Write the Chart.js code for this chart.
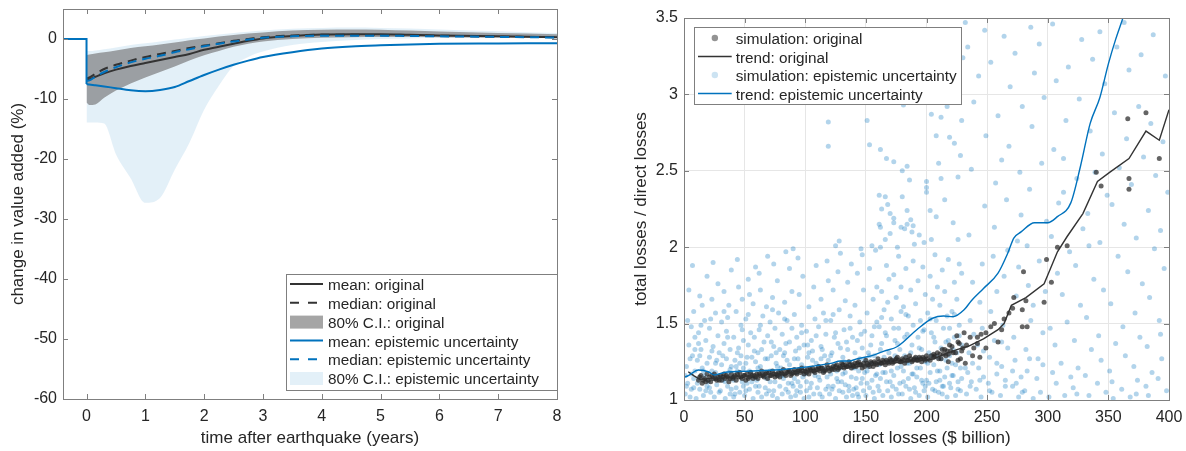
<!DOCTYPE html>
<html>
<head>
<meta charset="utf-8">
<script src="https://cdn.jsdelivr.net/npm/chart.js@4.4.1/dist/chart.umd.min.js"></script>
<style>
  body { margin: 0; background: #fff; }
  canvas { position: absolute; top: 0; }
</style>
</head>
<body>
<canvas id="impactChart" width="590" height="451" style="left:0"></canvas>
<canvas id="lossChart" width="596" height="451" style="left:590px"></canvas>
<script>
// --- left panel: change in value added after the quake ---
const preEventTime = [-0.4, 0];
const preEventChange = [0, 0];
const tPost = [0, 0.05, 0.15, 0.3, 0.5, 0.75, 1, 1.25, 1.5, 1.75, 2, 2.25, 2.5, 2.75, 3, 3.5, 4, 4.5, 5, 5.5, 6, 7, 8];
const meanOriginal = [-6.8, -6.7, -6.3, -5.7, -5.1, -4.5, -4.0, -3.5, -3.0, -2.5, -1.8, -1.3, -0.8, -0.3, 0.1, 0.5, 0.75, 0.8, 0.8, 0.7, 0.6, 0.45, 0.3];
const medianOriginal = [-6.6, -6.4, -5.8, -5.0, -4.3, -3.6, -3.0, -2.5, -2.0, -1.5, -1.1, -0.7, -0.3, 0.0, 0.3, 0.6, 0.7, 0.7, 0.65, 0.6, 0.55, 0.4, 0.3];
const meanEpistemic = [-7.5, -7.6, -7.7, -7.9, -8.2, -8.55, -8.7, -8.5, -8.0, -7.0, -6.0, -5.1, -4.3, -3.6, -3.0, -2.2, -1.6, -1.25, -1.05, -0.9, -0.8, -0.75, -0.7];
const medianEpistemic = [-7.0, -6.9, -6.3, -5.5, -4.7, -3.9, -3.3, -2.8, -2.2, -1.7, -1.2, -0.8, -0.4, -0.1, 0.2, 0.45, 0.55, 0.55, 0.55, 0.5, 0.45, 0.35, 0.25];
const ciOriginalUpper = [-2.7, -2.6, -2.4, -2.2, -1.9, -1.5, -1.2, -0.9, -0.6, -0.2, 0.1, 0.4, 0.65, 0.9, 1.1, 1.4, 1.55, 1.6, 1.55, 1.4, 1.25, 1.0, 0.8];
const ciOriginalLower = [-10.6, -11.0, -10.9, -9.8, -8.6, -7.4, -6.4, -5.5, -4.6, -3.6, -2.7, -2.0, -1.3, -0.8, -0.4, 0.0, 0.2, 0.3, 0.35, 0.35, 0.3, 0.25, 0.15];
const ciEpistemicUpper = [-2.0, -2.0, -1.9, -1.7, -1.4, -1.0, -0.7, -0.4, -0.1, 0.2, 0.5, 0.75, 1.0, 1.2, 1.4, 1.7, 1.85, 1.9, 1.85, 1.75, 1.6, 1.3, 1.0];
const ciEpistemicLower = [-13.9, -13.9, -13.9, -14.1, -19.2, -23.2, -27.3, -26.5, -21.8, -17.3, -11.8, -7.8, -4.5, -3.0, -2.1, -1.0, -0.5, -0.2, 0.0, 0.1, 0.15, 0.15, 0.1];
const timeTicks = [0, 1, 2, 3, 4, 5, 6, 7, 8];
const changeTicks = [-60, -50, -40, -30, -20, -10, 0];
const impactLegend = ['mean: original', 'median: original', '80% C.I.: original',
  'mean: epistemic uncertainty', 'median: epistemic uncertainty', '80% C.I.: epistemic uncertainty'];

// --- right panel: total / direct losses ---
const lossTicks = [0, 50, 100, 150, 200, 250, 300, 350, 400];
const ratioTicks = [1, 1.5, 2, 2.5, 3, 3.5];
const lossLegend = ['simulation: original', 'trend: original', 'simulation: epistemic uncertainty', 'trend: epistemic uncertainty'];

const trendOrigX = [3.5, 8, 13, 20, 30, 45, 60, 80, 100, 120, 140, 160, 180, 200, 206, 215, 225, 234, 247, 259, 264, 270, 282, 297, 308, 316, 329, 341, 351, 367, 381, 392, 400];
const trendOrigY = [1.185, 1.16, 1.135, 1.14, 1.145, 1.153, 1.16, 1.172, 1.185, 1.2, 1.215, 1.232, 1.248, 1.262, 1.27, 1.3, 1.33, 1.35, 1.4, 1.46, 1.5, 1.62, 1.67, 1.76, 1.97, 2.07, 2.22, 2.43, 2.49, 2.58, 2.76, 2.70, 2.90];
const trendEpiX = [0, 3, 12, 20, 25, 33, 55, 82, 100, 121, 129, 136, 143, 155, 165, 176, 192, 205, 214, 222, 231, 237, 247, 259, 267, 272, 278, 289, 300, 308, 319, 327, 335, 343, 350, 356, 362, 366];
const trendEpiY = [1.15, 1.157, 1.196, 1.185, 1.164, 1.18, 1.19, 1.2, 1.215, 1.24, 1.255, 1.255, 1.27, 1.29, 1.32, 1.35, 1.46, 1.535, 1.55, 1.545, 1.59, 1.65, 1.73, 1.83, 1.96, 2.06, 2.1, 2.16, 2.16, 2.2, 2.29, 2.53, 2.81, 2.98, 3.2, 3.36, 3.5, 3.6];

// simulated runs (direct losses, ratio)
const simOriginal = [
  [12,1.13],[14,1.16],[15,1.11],[17,1.14],[18,1.12],[19,1.17],[21,1.15],[22,1.12],[24,1.14],[25,1.17],[27,1.13],[28,1.15],
  [30,1.16],[31,1.13],[33,1.17],[34,1.14],[36,1.15],[37,1.12],[39,1.17],[40,1.14],[42,1.16],[43,1.13],[45,1.15],[46,1.18],
  [48,1.14],[49,1.16],[51,1.13],[52,1.17],[54,1.15],[55,1.18],[57,1.14],[58,1.16],[60,1.17],[61,1.14],[63,1.16],[64,1.19],
  [66,1.15],[67,1.17],[69,1.14],[70,1.18],[72,1.16],[73,1.19],[75,1.15],[76,1.17],[78,1.18],[79,1.15],[81,1.17],[82,1.2],
  [84,1.16],[85,1.18],[87,1.19],[88,1.16],[90,1.18],[91,1.2],[93,1.17],[94,1.19],[96,1.18],[97,1.21],[99,1.17],[100,1.19],
  [102,1.2],[103,1.17],[105,1.19],[106,1.21],[108,1.18],[109,1.2],[111,1.22],[112,1.19],[114,1.21],[115,1.18],[117,1.2],
  [118,1.23],[120,1.19],[121,1.21],[123,1.22],[124,1.2],[126,1.23],[127,1.2],[129,1.22],[130,1.24],[132,1.21],[133,1.23],
  [135,1.22],[136,1.25],[138,1.21],[139,1.23],[141,1.24],[142,1.22],[144,1.25],[145,1.23],[147,1.21],[148,1.24],[150,1.26],
  [152,1.23],[154,1.25],[156,1.22],[158,1.24],[160,1.27],[162,1.24],[164,1.26],[166,1.23],[168,1.25],[170,1.27],[172,1.24],
  [174,1.26],[176,1.28],[178,1.25],[180,1.27],[182,1.24],[184,1.26],[186,1.29],[188,1.25],[190,1.27],[192,1.26],[194,1.28],
  [196,1.25],[198,1.27],[200,1.29],[203,1.26],[206,1.28],[209,1.31],[212,1.27],[215,1.33],[218,1.3],[221,1.35],[224,1.31],
  [227,1.37],[230,1.34],[206,1.3],[210,1.27],[213,1.33],[216,1.29],[219,1.36],[222,1.31],[226,1.38],[229,1.32],[233,1.36],
  [236,1.41],[239,1.34],[242,1.37],[245,1.43],[238,1.29],[232,1.24],[228,1.27],[225,1.42],
  [218,1.25],[226,1.26],[231,1.44],[242,1.41],[244,1.28],[249,1.34],[249,1.44],[253,1.48],[256,1.5],[259,1.38],[262,1.46],
  [264,1.53],[268,1.57],[272,1.67],[271,1.6],[279,1.59],[279,1.48],[280,1.84],[282,1.65],[283,1.48],[297,1.64],[299,1.92],
  [303,1.77],[308,2.0],[316,2.01],[340,2.49],[344,2.4],[366,2.84],[367,2.45],[367,2.38],[381,2.88],[392,2.58],
  [13,1.15],[16,1.13],[20,1.13],[23,1.16],[26,1.14],[29,1.13],[32,1.15],[35,1.16],[38,1.14],[41,1.15],[44,1.17],[47,1.15],
  [50,1.16],[53,1.14],[56,1.16],[59,1.15],[62,1.17],[65,1.16],[68,1.18],[71,1.16],[74,1.17],[77,1.16],[80,1.18],[83,1.17],
  [86,1.19],[89,1.17],[92,1.18],[95,1.2],[98,1.19],[101,1.18],[104,1.2],[107,1.19],[110,1.2],[113,1.21],[116,1.19],[119,1.21],
  [122,1.2],[125,1.22],[128,1.21],[131,1.23],[134,1.22],[137,1.23],[140,1.22],[143,1.24],[146,1.23],[149,1.22],[151,1.24],
  [153,1.22],[155,1.24],[157,1.25],[159,1.23],[161,1.25],[163,1.24],[165,1.25],[167,1.26],[169,1.24],[171,1.26],[173,1.25],
  [175,1.27],[177,1.26],[179,1.25],[181,1.26],[183,1.28],[185,1.26],[187,1.27],[189,1.26],[191,1.28],[193,1.26],[195,1.27],
  [197,1.28],[199,1.26],[201,1.27],[204,1.29],[207,1.29],[211,1.3],[214,1.3],[217,1.32],[220,1.32]
];
const simEpistemic = [
  [1,1.04],[2,1.22],[3,1.11],[4,1.36],[5,1.02],[6,1.48],[6,1.17],[7,1.29],[8,1.08],[8,1.58],[9,1.41],[9,1.19],[4,1.72],[7,1.88],
  [10,1.01],[11,1.26],[12,1.14],[12,1.44],[13,1.07],[14,1.33],[15,1.21],[15,1.62],[16,1.03],[17,1.52],[17,1.16],[18,1.39],[19,1.09],[19,1.81],[13,1.68],
  [20,1.12],[21,1.28],[21,1.47],[22,1.05],[23,1.19],[23,1.66],[24,1.35],[25,1.02],[26,1.24],[26,1.57],[27,1.1],[28,1.42],[28,1.76],[29,1.15],[29,1.31],[24,1.9],
  [30,1.06],[31,1.23],[31,1.51],[32,1.13],[33,1.37],[33,1.71],[34,1.01],[35,1.27],[35,1.45],[36,1.09],[37,1.18],[37,1.62],[38,1.33],[38,1.04],[39,1.22],[39,1.85],[36,1.54],
  [40,1.15],[41,1.02],[41,1.41],[42,1.26],[43,1.08],[43,1.58],[44,1.19],[45,1.34],[45,1.74],[46,1.05],[47,1.29],[47,1.49],[48,1.12],[48,1.66],[49,1.21],[49,1.39],[44,1.92],
  [50,1.03],[51,1.24],[51,1.53],[52,1.11],[53,1.36],[53,1.79],[54,1.07],[55,1.18],[55,1.44],[56,1.28],[57,1.01],[57,1.63],[58,1.15],[58,1.32],[59,1.09],[59,1.87],[54,1.69],
  [60,1.13],[61,1.31],[61,1.05],[62,1.46],[63,1.22],[63,1.72],[64,1.02],[65,1.17],[65,1.55],[66,1.38],[67,1.08],[67,1.27],[68,1.61],[68,1.14],[69,1.42],[69,1.94],[62,1.83],
  [70,1.06],[71,1.19],[71,1.51],[72,1.29],[73,1.03],[73,1.67],[74,1.35],[75,1.12],[75,1.47],[76,1.24],[77,1.01],[77,1.78],[78,1.16],[78,1.57],[79,1.09],[79,1.33],[74,1.89],
  [80,1.21],[81,1.04],[81,1.43],[82,1.14],[83,1.31],[83,1.64],[84,1.07],[85,1.26],[85,1.52],[86,1.11],[87,1.38],[87,1.86],[88,1.02],[88,1.19],[89,1.47],[89,1.71],[84,1.97],
  [90,1.09],[91,1.27],[91,1.56],[92,1.03],[93,1.18],[93,1.41],[94,1.12],[95,1.34],[95,1.69],[96,1.05],[97,1.23],[97,1.49],[98,1.15],[98,1.81],[99,1.01],[99,1.36],[94,1.93],
  [100,1.17],[101,1.06],[101,1.45],[102,1.28],[103,1.02],[103,1.61],[104,1.21],[105,1.11],[105,1.39],[106,1.32],[107,1.04],[107,1.74],[108,1.16],[108,1.53],[109,1.24],[109,1.88],
  [110,1.08],[111,1.22],[111,1.48],[112,1.13],[113,1.35],[113,1.66],[114,1.02],[115,1.19],[115,1.57],[116,1.29],[117,1.07],[117,1.43],[118,1.15],[118,1.91],[119,1.26],[119,1.78],
  [120,1.04],[121,1.17],[121,1.52],[122,1.31],[123,1.09],[123,1.72],[124,1.23],[125,1.01],[125,1.44],[126,1.14],[127,1.37],[127,1.84],[128,1.06],[128,1.59],[129,1.21],[129,1.96],
  [130,1.12],[131,1.28],[131,1.05],[132,1.46],[133,1.18],[133,1.65],[134,1.02],[135,1.33],[135,1.77],[136,1.09],[137,1.24],[137,1.55],[138,1.15],[138,1.89],[139,1.41],[139,1.03],
  [140,1.07],[141,1.21],[141,1.62],[142,1.14],[143,1.39],[143,1.83],[144,1.02],[145,1.27],[145,1.51],[146,1.11],[147,1.34],[147,1.95],[148,1.06],[148,1.72],[149,1.18],[149,1.45],[146,1.99],
  [150,1.03],[151,1.19],[151,1.57],[152,1.31],[153,1.08],[153,1.86],[154,1.24],[155,1.13],[155,1.42],[156,1.66],[157,1.01],[157,1.29],[158,1.16],[158,1.98],[159,1.51],[159,1.74],
  [160,1.09],[161,1.23],[161,1.48],[162,1.14],[163,1.37],[163,1.71],[164,1.03],[165,1.28],[165,1.59],[166,1.18],[167,1.42],[167,1.88],[168,1.06],[168,1.64],[169,1.31],[169,1.79],
  [170,1.12],[171,1.02],[171,1.53],[172,1.26],[173,1.16],[173,1.82],[174,1.39],[175,1.07],[175,1.67],[176,1.21],[177,1.47],[177,1.94],[178,1.11],[178,1.33],[179,1.58],[179,1.74],
  [180,1.04],[181,1.19],[181,1.61],[182,1.29],[183,1.09],[183,1.86],[184,1.43],[185,1.14],[185,1.55],[186,1.24],[187,1.01],[187,1.72],[188,1.36],[188,1.17],[189,1.49],[189,1.91],
  [190,1.08],[191,1.27],[191,1.63],[192,1.15],[193,1.41],[193,1.78],[194,1.03],[195,1.21],[195,1.52],[196,1.33],[197,1.11],[197,1.87],[198,1.46],[198,1.06],[199,1.69],[199,1.25],
  [200,1.13],[201,1.02],[201,1.57],[202,1.31],[203,1.18],[203,1.81],[204,1.44],[205,1.07],[205,1.66],[206,1.23],[207,1.38],[207,1.95],[208,1.12],[208,1.52],[209,1.28],[209,1.74],
  [210,1.05],[211,1.19],[211,1.62],[212,1.34],[213,1.09],[213,1.85],[214,1.47],[215,1.15],[215,1.71],[216,1.26],[217,1.02],[217,1.55],[218,1.39],[218,1.92],[219,1.11],[219,1.29],
  [220,1.08],[221,1.24],[221,1.58],[222,1.16],[223,1.41],[223,1.77],[224,1.03],[225,1.31],[225,1.66],[226,1.12],[227,1.49],[227,1.89],[228,1.21],[228,1.06],[229,1.36],[229,1.83],
  [2,1.09],[5,1.27],[8,1.14],[3,1.52],[9,1.33],[6,1.07],[1,1.16],[11,1.11],[13,1.29],[16,1.19],[18,1.06],[14,1.49],[19,1.24],[12,1.37],
  [21,1.08],[23,1.32],[25,1.14],[27,1.26],[29,1.05],[22,1.53],[26,1.18],[31,1.15],[32,1.29],[34,1.12],[36,1.41],[38,1.2],[39,1.07],[33,1.58],
  [41,1.13],[42,1.04],[44,1.31],[46,1.24],[48,1.46],[49,1.09],[43,1.22],[51,1.06],[52,1.28],[54,1.19],[56,1.12],[58,1.41],[59,1.25],[53,1.56],
  [61,1.21],[62,1.09],[64,1.33],[66,1.16],[68,1.04],[69,1.27],[63,1.49],[71,1.12],[72,1.38],[74,1.06],[76,1.31],[77,1.22],[79,1.18],[73,1.59],
  [81,1.16],[82,1.29],[84,1.37],[86,1.05],[87,1.23],[89,1.11],[83,1.53],[91,1.14],[92,1.32],[94,1.27],[96,1.09],[97,1.44],[99,1.21],[93,1.06],
  [101,1.12],[102,1.36],[104,1.08],[106,1.26],[107,1.19],[109,1.42],[103,1.31],[111,1.15],[112,1.04],[114,1.33],[116,1.21],[117,1.52],[119,1.09],[113,1.27],
  [121,1.29],[122,1.07],[124,1.41],[126,1.19],[127,1.12],[129,1.34],[123,1.56],[131,1.17],[132,1.25],[134,1.38],[136,1.06],[137,1.47],[139,1.21],[133,1.1],
  [141,1.31],[142,1.08],[144,1.19],[146,1.43],[147,1.14],[149,1.26],[143,1.04],[151,1.11],[152,1.22],[154,1.36],[156,1.05],[157,1.48],[159,1.17],[153,1.29],
  [161,1.06],[162,1.33],[164,1.18],[166,1.44],[167,1.12],[169,1.25],[163,1.54],[171,1.19],[172,1.09],[174,1.29],[176,1.37],[177,1.04],[179,1.22],[173,1.47],
  [181,1.12],[182,1.41],[184,1.24],[186,1.07],[187,1.31],[189,1.17],[183,1.56],[191,1.05],[192,1.21],[194,1.34],[196,1.13],[197,1.45],[199,1.09],[193,1.27],
  [201,1.24],[202,1.11],[204,1.29],[206,1.41],[207,1.06],[209,1.19],[203,1.53],[211,1.13],[212,1.27],[214,1.09],[216,1.38],[217,1.21],[219,1.47],[213,1.04],
  [221,1.16],[222,1.33],[224,1.23],[226,1.07],[227,1.42],[229,1.14],[223,1.56],
  [236,1.09],[244,1.13],[252,1.06],[258,1.24],[265,1.09],[271,1.19],[279,1.05],[285,1.27],[232,1.21],[247,1.32],[262,1.38],[274,1.11],
  [119,2.82],[119,2.66],[128,2.04],[125,2.01],[90,1.99],[151,2.83],[153,2.67],[162,2.64],[167,2.58],[173,2.56],[180,2.5],[184,2.53],
  [181,2.93],[204,2.87],[186,2.44],[200,2.43],[161,2.34],[166,2.33],[168,2.28],[163,2.25],[180,2.33],[184,2.24],[170,2.22],[173,2.19],
  [187,2.18],[161,2.15],[162,2.13],[173,2.16],[179,2.13],[182,2.12],[184,2.15],[189,2.14],[188,2.1],[194,2.08],[170,2.09],[166,2.05],
  [200,2.39],[200,2.36],[203,2.24],[204,2.05],[155,2.01],[162,2.0],[176,2.0],[190,2.02],[198,2.03],
  [212,2.85],[217,2.92],[229,2.83],[208,2.73],[219,2.72],[223,2.68],[212,2.45],[226,2.46],[208,2.2],[222,2.16],[232,3.47],[230,3.24],
  [215,2.31],[226,2.05],[210,2.55],[220,3.05],[228,2.6],
  [233,1.04],[234,1.18],[235,1.31],[236,1.52],[237,1.12],[238,1.77],[239,1.43],[235,2.08],[237,2.51],[239,2.95],[234,3.31],[238,1.24],
  [241,1.07],[242,1.36],[243,1.21],[244,1.64],[245,1.02],[246,1.89],[247,1.15],[248,2.27],[249,2.73],[243,3.12],[246,1.47],[248,3.42],
  [251,1.11],[252,1.28],[253,1.58],[254,1.05],[255,1.94],[256,1.39],[257,2.42],[258,1.17],[259,2.86],[253,3.21],[256,2.13],[258,1.71],
  [261,1.03],[262,1.22],[263,1.49],[264,1.81],[265,1.13],[266,2.31],[267,1.34],[268,2.66],[269,3.05],[264,3.38],[267,1.98],[262,2.57],
  [271,1.09],[272,1.41],[273,1.26],[274,1.68],[275,2.04],[276,1.02],[277,2.49],[278,1.15],[279,2.92],[273,3.27],[276,1.87],[278,2.21],
  [281,1.06],[282,1.33],[283,1.19],[284,1.75],[285,2.38],[286,1.52],[287,2.79],[288,1.01],[289,3.14],[283,2.01],[286,3.44],[288,1.62],
  [291,1.14],[292,1.27],[293,1.91],[294,1.05],[295,2.55],[296,1.44],[297,2.98],[298,1.71],[299,2.17],[293,3.33],[296,1.23],
  [301,1.02],[302,1.47],[303,2.07],[304,1.18],[305,2.64],[306,1.36],[307,3.09],[308,1.83],[309,2.29],[304,3.46],[307,1.11],
  [311,1.24],[312,1.69],[313,2.36],[314,1.03],[315,2.83],[316,1.51],[317,3.18],[318,1.97],[319,1.15],[313,2.58],
  [321,1.08],[322,1.39],[323,1.88],[324,2.45],[325,1.21],[326,2.97],[327,1.62],[328,3.36],[329,2.12],[324,1.04],
  [331,1.16],[332,1.54],[333,2.22],[334,1.03],[335,2.76],[336,1.33],[337,3.23],[338,1.79],[339,2.49],[334,2.01],
  [341,1.11],[342,1.42],[343,2.03],[344,1.26],[345,2.61],[346,1.72],[347,3.07],[348,1.05],[349,2.34],[343,3.41],
  [351,1.19],[352,1.63],[353,2.28],[354,1.01],[355,2.88],[356,1.37],[357,3.31],[358,1.94],[359,2.52],[353,1.12],
  [361,1.07],[362,1.48],[363,2.15],[364,1.29],[365,2.71],[366,1.84],[367,3.16],[368,1.02],[369,2.41],[363,3.47],
  [371,1.22],[372,1.57],[373,2.06],[374,1.13],[375,2.92],[376,1.41],[377,3.26],[378,1.76],[379,2.59],[373,1.04],
  [381,1.09],[382,1.35],[383,2.24],[384,1.67],[385,2.81],[386,1.18],[387,3.39],[388,1.99],[389,2.47],[383,1.03],
  [391,1.14],[392,1.52],[393,2.11],[394,1.27],[395,2.69],[396,1.86],[397,3.12],[398,1.06],[399,2.36],[393,1.43]
];

// --- styling ---
const FONT = "'Liberation Sans', Arial, Helvetica, sans-serif";
const TEXT_COLOR = '#262626';
const AXIS_COLOR = '#7f7f7f';
const BLACK = '#333333';
const BLUE = '#0072BD';
const GRAY_FILL = 'rgba(110,110,110,0.62)';
const LIGHT_BLUE = 'rgba(0,114,189,0.11)';
const DASH = [9, 6];

Chart.defaults.font.family = FONT;
Chart.defaults.color = TEXT_COLOR;

const toXY = (xs, ys) => xs.map((v, i) => ({ x: v, y: ys[i] }));
const pairs = (arr) => arr.map(p => ({ x: p[0], y: p[1] }));

// fixed axis box sizes so the plot area lands where the original has it
const fixWidth = w => s => { s.width = w; s.paddingTop = 0; s.paddingBottom = 0; };
const fixHeight = h => s => { s.height = h; s.paddingLeft = 0; s.paddingRight = 0; };

// box with inward ticks on all four sides, like the original figure
function frame(tickLen) {
  return {
    id: 'frame',
    afterDatasetsDraw(chart) {
      const { ctx, chartArea: a, scales: { x, y } } = chart;
      ctx.save();
      ctx.strokeStyle = AXIS_COLOR;
      ctx.lineWidth = 1;
      ctx.beginPath();
      x.ticks.forEach(tk => {
        const p = Math.round(x.getPixelForValue(tk.value)) + 0.5;
        ctx.moveTo(p, a.bottom); ctx.lineTo(p, a.bottom - tickLen);
        ctx.moveTo(p, a.top); ctx.lineTo(p, a.top + tickLen);
      });
      y.ticks.forEach(tk => {
        const p = Math.round(y.getPixelForValue(tk.value)) + 0.5;
        ctx.moveTo(a.left, p); ctx.lineTo(a.left + tickLen, p);
        ctx.moveTo(a.right, p); ctx.lineTo(a.right - tickLen, p);
      });
      ctx.stroke();
      ctx.strokeRect(Math.round(a.left) + 0.5, Math.round(a.top) + 0.5,
        Math.round(a.right - a.left), Math.round(a.bottom - a.top));
      ctx.restore();
    }
  };
}

// legend box drawn inside the plot area
function boxLegend(box, items) {
  return {
    id: 'boxLegend',
    afterDraw(chart) {
      const ctx = chart.ctx;
      ctx.save();
      ctx.fillStyle = '#fff';
      ctx.fillRect(box.left, box.top, box.width, box.height);
      ctx.strokeStyle = AXIS_COLOR;
      ctx.lineWidth = 1;
      ctx.strokeRect(box.left + 0.5, box.top + 0.5, box.width, box.height);
      ctx.font = '15.3px ' + FONT;
      ctx.textBaseline = 'middle';
      items.forEach((it, i) => {
        const cy = box.top + box.first + i * box.row;
        const x0 = box.left + box.sample, x1 = x0 + box.sampleWidth;
        if (it.kind === 'line' || it.kind === 'dash') {
          ctx.strokeStyle = it.color;
          ctx.lineWidth = it.width;
          ctx.setLineDash(it.kind === 'dash' ? [9, 9] : []);
          ctx.beginPath();
          ctx.moveTo(x0, cy - 1); ctx.lineTo(x1, cy - 1);
          ctx.stroke();
          ctx.setLineDash([]);
        } else if (it.kind === 'patch') {
          ctx.fillStyle = it.color;
          ctx.fillRect(x0, cy - 7, x1 - x0, 13);
        } else {
          ctx.fillStyle = it.color;
          ctx.beginPath();
          ctx.arc((x0 + x1) / 2, cy - 1, 3.2, 0, Math.PI * 2);
          ctx.fill();
        }
        ctx.fillStyle = TEXT_COLOR;
        ctx.fillText(it.text, box.left + box.text, cy + 1);
      });
      ctx.restore();
    }
  };
}

const tickFont = { size: 16 };
const titleFont = { size: 17, lineHeight: 1.2 };

// 1. Impact over time
const post = { cubicInterpolationMode: 'monotone', pointRadius: 0 };
const bound = { ...post, borderWidth: 0, borderColor: 'rgba(0,0,0,0)' };
new Chart(document.getElementById('impactChart'), {
  type: 'line',
  data: {
    datasets: [
      { ...bound, data: toXY(tPost, ciEpistemicUpper), fill: '+1', backgroundColor: LIGHT_BLUE, order: 9 },
      { ...bound, data: toXY(tPost, ciEpistemicLower), fill: false, order: 8 },
      { ...bound, data: toXY(tPost, ciOriginalUpper), fill: '+1', backgroundColor: GRAY_FILL, order: 7 },
      { ...bound, data: toXY(tPost, ciOriginalLower), fill: false, order: 6 },
      { ...post, label: impactLegend[0], data: toXY(tPost, meanOriginal), borderColor: BLACK, borderWidth: 2, order: 5 },
      { ...post, label: impactLegend[1], data: toXY(tPost, medianOriginal), borderColor: BLACK, borderWidth: 2, borderDash: DASH, order: 4 },
      { ...post, label: impactLegend[3], data: toXY(tPost, meanEpistemic), borderColor: BLUE, borderWidth: 2, order: 3 },
      { ...post, label: impactLegend[4], data: toXY(tPost, medianEpistemic), borderColor: BLUE, borderWidth: 2, borderDash: DASH, order: 2 },
      // before the quake everything sits at zero, then drops at t = 0
      { data: toXY(preEventTime.concat([tPost[0]]), preEventChange.concat([meanEpistemic[0]])),
        borderColor: BLUE, borderWidth: 2, pointRadius: 0, tension: 0, order: 1 }
    ]
  },
  options: {
    responsive: false,
    animation: false,
    layout: { padding: { left: 0, top: 9, right: 33, bottom: 0 } },
    plugins: { legend: { display: false }, tooltip: { enabled: false } },
    scales: {
      x: {
        type: 'linear', min: -0.4, max: 8,
        afterBuildTicks: s => { s.ticks = timeTicks.map(v => ({ value: v })); },
        afterFit: fixHeight(52),
        grid: { display: false, drawTicks: false },
        border: { display: false },
        ticks: { font: tickFont, padding: 8, maxRotation: 0 },
        title: { display: true, text: 'time after earthquake (years)', font: titleFont, padding: { top: 0, bottom: 2.8 } }
      },
      y: {
        type: 'linear', min: -60, max: 5,
        afterBuildTicks: s => { s.ticks = changeTicks.map(v => ({ value: v })); },
        afterFit: fixWidth(63),
        grid: { display: false, drawTicks: false },
        border: { display: false },
        ticks: { font: tickFont, padding: 6 },
        title: { display: true, text: 'change in value added (%)', font: titleFont, padding: { top: 8.1, bottom: 0 } }
      }
    }
  },
  plugins: [frame(5), boxLegend(
    { left: 286, top: 274, width: 271, height: 116, first: 11, row: 18.8, sample: 4, sampleWidth: 33, text: 42 },
    [
      { text: impactLegend[0], kind: 'line', color: BLACK, width: 2 },
      { text: impactLegend[1], kind: 'dash', color: BLACK, width: 2 },
      { text: impactLegend[2], kind: 'patch', color: GRAY_FILL },
      { text: impactLegend[3], kind: 'line', color: BLUE, width: 2 },
      { text: impactLegend[4], kind: 'dash', color: BLUE, width: 2 },
      { text: impactLegend[5], kind: 'patch', color: LIGHT_BLUE }
    ])]
});

// 2. Loss ratio scatter
new Chart(document.getElementById('lossChart'), {
  type: 'scatter',
  data: {
    datasets: [
      { label: lossLegend[2], data: pairs(simEpistemic), pointRadius: 2.5, pointBorderWidth: 0,
        pointBackgroundColor: 'rgba(0,114,189,0.3)', order: 4 },
      { label: lossLegend[0], data: pairs(simOriginal), pointRadius: 2.5, pointBorderWidth: 0,
        pointBackgroundColor: 'rgba(40,40,40,0.72)', order: 3 },
      { label: lossLegend[1], type: 'line', data: toXY(trendOrigX, trendOrigY), borderColor: BLACK,
        borderWidth: 1.4, pointRadius: 0, tension: 0, order: 2 },
      { label: lossLegend[3], type: 'line', data: toXY(trendEpiX, trendEpiY), borderColor: BLUE,
        borderWidth: 1.4, pointRadius: 0, cubicInterpolationMode: 'monotone', order: 1 }
    ]
  },
  options: {
    responsive: false,
    animation: false,
    layout: { padding: { left: 0, top: 18, right: 17, bottom: 0 } },
    plugins: { legend: { display: false }, tooltip: { enabled: false } },
    scales: {
      x: {
        type: 'linear', min: 0, max: 400,
        afterBuildTicks: s => { s.ticks = lossTicks.map(v => ({ value: v })); },
        afterFit: fixHeight(51),
        grid: { color: '#e6e6e6', drawTicks: false },
        border: { display: false },
        ticks: { font: tickFont, padding: 8, maxRotation: 0 },
        title: { display: true, text: 'direct losses ($ billion)', font: titleFont, padding: { top: 0, bottom: 2.8 } }
      },
      y: {
        type: 'linear', min: 1, max: 3.5,
        afterBuildTicks: s => { s.ticks = ratioTicks.map(v => ({ value: v })); },
        afterFit: fixWidth(94),
        grid: { color: '#e6e6e6', drawTicks: false },
        border: { display: false },
        ticks: { font: tickFont, padding: 6, callback: v => String(v) },
        title: { display: true, text: 'total losses / direct losses', font: titleFont, padding: { top: 40.8, bottom: 0 } }
      }
    }
  },
  plugins: [frame(5), boxLegend(
    { left: 104, top: 27, width: 267, height: 77, first: 12, row: 18.5, sample: 4, sampleWidth: 33.7, text: 41.7 },
    [
      { text: lossLegend[0], kind: 'dot', color: 'rgba(40,40,40,0.5)' },
      { text: lossLegend[1], kind: 'line', color: BLACK, width: 1.4 },
      { text: lossLegend[2], kind: 'dot', color: 'rgba(0,114,189,0.2)' },
      { text: lossLegend[3], kind: 'line', color: BLUE, width: 1.4 }
    ])]
});
</script>
</body>
</html>
